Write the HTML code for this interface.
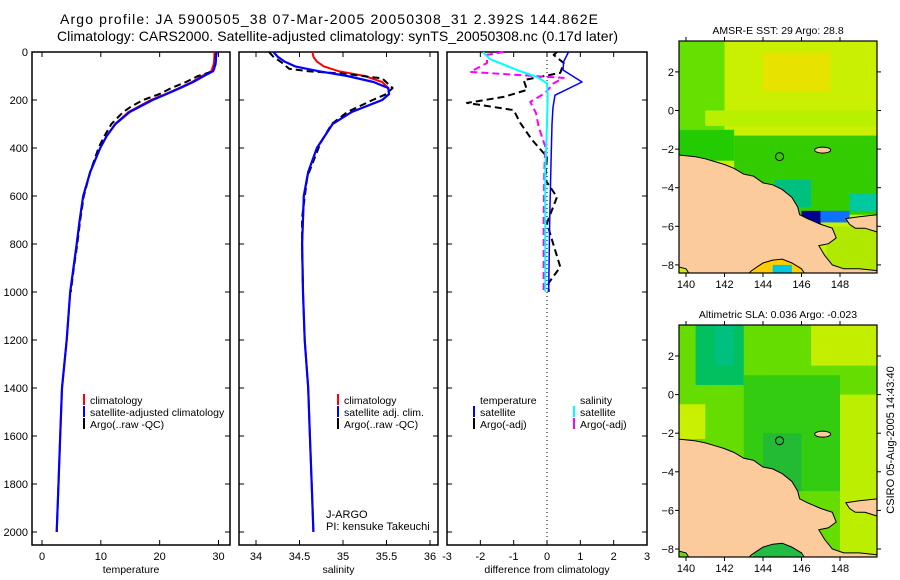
<!DOCTYPE html>
<html><head><meta charset="utf-8">
<style>
html,body{margin:0;padding:0;background:#fff;}
svg{display:block;font-family:"Liberation Sans",sans-serif;}
</style></head>
<body>
<svg id="fig" width="900" height="580" viewBox="0 0 900 580" xmlns="http://www.w3.org/2000/svg">
<text x="60" y="24" font-size="14" textLength="538">Argo profile: JA 5900505_38 07-Mar-2005 20050308_31 2.392S 144.862E</text>
<text x="57" y="41" font-size="14" textLength="561">Climatology: CARS2000. Satellite-adjusted climatology: synTS_20050308.nc (0.17d later)</text>
<g id="plots"></g>
<g id="maps"></g>
<text transform="translate(894,440) rotate(-90)" font-size="11" text-anchor="middle">CSIRO 05-Aug-2005 14:43:40</text>
</svg>
<script>
// ---- data ----
const tClimDepth=[0,20,50,80,100,125,150,175,200,250,300,350,400,500,600,700,800,1000,1200,1400,1600,1800,2000];
const tClim=[29.3,29.3,29.2,28.8,27.2,25.5,23.3,21,18.5,14.7,12.4,11,9.9,8.2,7.0,6.4,5.9,4.8,4.2,3.4,3.1,2.8,2.5];
const tSat=[29.7,29.6,29.5,29.1,27.5,25.7,23.5,21.2,18.8,14.9,12.5,11,9.9,8.2,7.0,6.4,5.9,4.8,4.2,3.4,3.1,2.8,2.5];
const tArgoDepth=[0,20,50,80,100,125,150,175,200,225,250,300,350,400,500,600,700,800,900,1000];
const tArgo=[29.6,29.5,29.4,29.2,26.5,24.5,22,20,17.2,15.3,13.8,11.8,10.6,9.6,8.2,7.1,6.5,6.0,5.4,4.9];
const sClimDepth=[0,20,40,60,80,100,125,150,175,200,250,300,400,500,600,800,1000,1200,1400,1600,1800,2000];
const sClim=[34.65,34.66,34.7,34.78,34.95,35.25,35.45,35.52,35.53,35.45,35.1,34.88,34.7,34.6,34.55,34.53,34.54,34.56,34.6,34.62,34.64,34.66];
const sSat=[34.2,34.25,34.33,34.45,34.72,35.05,35.35,35.52,35.53,35.45,35.1,34.88,34.7,34.6,34.55,34.53,34.54,34.56,34.6,34.62,34.64,34.66];
const sArgoDepth=[0,20,45,70,80,90,110,150,175,200,250,300,380,520,690,800,1000];
const sArgo=[34.15,34.2,34.3,34.38,34.6,35.0,35.45,35.57,35.5,35.34,35.05,34.87,34.74,34.59,34.53,34.53,34.54];
const dTSatDepth=[0,4,40,75,125,180,230,300,463,700,1000];
const dTSat=[0.65,0.63,0.5,0.48,1.05,0.24,0.18,0.15,0.12,0.08,0.05];
const dSSatDepth=[0,4,30,75,104,130,187,300,500,1000];
const dSSat=[-1.9,-1.9,-1.7,-0.9,-0.3,0,0.02,0.0,-0.05,-0.05];
const dSArgoDepth=[0,12,46,83,108,130,171,208,254,312,395,500,700,1000];
const dSArgo=[-1.3,-1.8,-1.8,-2.3,0.5,0.2,-0.05,-0.5,-0.33,-0.25,-0.05,-0.08,-0.1,-0.1];
const dTArgoDepth=[0,12,46,87,117,158,187,212,242,296,366,437,533,604,712,783,896,962,1000];
const dTArgo=[0.3,0.2,0.5,0.4,-0.7,-0.6,-1.3,-2.4,-1.0,-0.8,-0.45,0,-0.05,0.3,0,0.15,0.4,0.05,0.05];
const depthTicks=[0,200,400,600,800,1000,1200,1400,1600,1800,2000];
const tTicks=[0,10,20,30];
const sTicks=[34,34.5,35,35.5,36];
const sTickLabels=["34","34.5","35","35.5","36"];
const dTicks=[-3,-2,-1,0,1,2,3];
const lonTicks=[140,142,144,146,148];
const latTicks=[2,0,-2,-4,-6,-8];

const NS="http://www.w3.org/2000/svg";
function mk(tag,attrs,parent){const e=document.createElementNS(NS,tag);for(const k in attrs)e.setAttribute(k,attrs[k]);(parent||document.getElementById('plots')).appendChild(e);return e;}
const TOP=52,BOT=545;
const yD=d=>TOP+d*0.24;
function scaleX(v0,x0,v1,x1){return v=>x0+(v-v0)*(x1-x0)/(v1-v0);}
const panels=[
 {l:32,r:230,x:scaleX(0,42,30,218.5),ticks:tTicks,labels:tTicks.map(String),title:"temperature",name:"temperature"},
 {l:239,r:438,x:scaleX(34,256,36,430),ticks:sTicks,labels:sTickLabels,title:"salinity",name:"salinity"},
 {l:447,r:647,x:scaleX(-3,447,3,647),ticks:dTicks,labels:dTicks.map(String),title:"difference from climatology",name:"difference"}
];
panels.forEach((p,i)=>{
 const g=mk('g',{});
 
 
 const fr=mk('rect',{x:p.l,y:TOP,width:p.r-p.l,height:BOT-TOP,fill:'none',stroke:'#000','stroke-width':1.5},g);
 
 
 p.ticks.forEach((t,j)=>{
  const x=p.x(t);
  mk('line',{x1:x,x2:x,y1:BOT,y2:BOT-5,stroke:'#000'},g);
  mk('line',{x1:x,x2:x,y1:TOP,y2:TOP+5,stroke:'#000'},g);
  const tx=mk('text',{x:x,y:BOT+15,'font-size':11,'text-anchor':'middle'},g);
  tx.textContent=p.labels[j];
  
  
 });
 depthTicks.forEach(d=>{
  const y=yD(d);
  mk('line',{x1:p.l,x2:p.l+5,y1:y,y2:y,stroke:'#000'},g);
  mk('line',{x1:p.r,x2:p.r-5,y1:y,y2:y,stroke:'#000'},g);
  if(i===0){const tx=mk('text',{x:28,y:y+4,'font-size':11,'text-anchor':'end'},g);tx.textContent=String(d);
   
   }
 });
 const tt=mk('text',{x:(p.l+p.r)/2,y:BOT+28,'font-size':10.5,'text-anchor':'middle'},g);
 tt.textContent=p.title;
 
 
});
function line(p,depths,vals,color,dash,name,w){
 const pts=depths.map((d,k)=>p.x(vals[k]).toFixed(1)+','+yD(d).toFixed(1)).join(' ');
 const e=mk('polyline',{points:pts,fill:'none',stroke:color,'stroke-width':w||2,'stroke-dasharray':dash||'none','stroke-linejoin':'round'});
 
 
}
const zl=mk('line',{x1:panels[2].x(0),x2:panels[2].x(0),y1:TOP,y2:BOT,stroke:'#000','stroke-dasharray':'1,3'});


line(panels[0],tClimDepth,tClim,'#f00',null,'temperature-climatology-line');
line(panels[0],tArgoDepth,tArgo,'#000','7,4','temperature-argo-line');
line(panels[0],tClimDepth,tSat,'#00f',null,'temperature-satellite-line',2.2);
line(panels[1],sClimDepth,sClim,'#f00',null,'salinity-climatology-line');
line(panels[1],sArgoDepth,sArgo,'#000','7,4','salinity-argo-line');
line(panels[1],sClimDepth,sSat,'#00f',null,'salinity-satellite-line',2.2);
line(panels[2],dTArgoDepth,dTArgo,'#000','7,4','diff-temperature-argo-line');
line(panels[2],dSArgoDepth,dSArgo,'#f0f','7,4','diff-salinity-argo-line');
line(panels[2],dTSatDepth,dTSat,'#00f',null,'diff-temperature-satellite-line',1.5);
line(panels[2],dSSatDepth,dSSat,'#0ff',null,'diff-salinity-satellite-line',2);
function leg(x,y,color,label,name){
 if(color){const m=mk('line',{x1:x,x2:x,y1:y-10,y2:y+1,stroke:color,'stroke-width':2});
  
  }
 const t=mk('text',{x:x+6,y:y,'font-size':10.5});t.textContent=label;
 
 
}
leg(84,404,'#f00','climatology','legend-climatology');
leg(84,416,'#00f','satellite-adjusted climatology','legend-satellite');
leg(84,428,'#000','Argo(..raw -QC)','legend-argo');
leg(338,404,'#f00','climatology','legend2-climatology');
leg(338,416,'#00f','satellite adj. clim.','legend2-satellite');
leg(338,428,'#000','Argo(..raw -QC)','legend2-argo');
leg(474,404,null,'temperature','legend3-temperature-header');
leg(474,416,'#00f','satellite','legend3-temp-satellite');
leg(474,428,'#000','Argo(-adj)','legend3-temp-argo');
leg(574,404,null,'salinity','legend3-salinity-header');
leg(574,416,'#0ff','satellite','legend3-sal-satellite');
leg(574,428,'#f0f','Argo(-adj)','legend3-sal-argo');
const j1=mk('text',{x:326,y:518,'font-size':11});j1.textContent='J-ARGO';


const j2=mk('text',{x:326,y:530,'font-size':11});j2.textContent='PI: kensuke Takeuchi';



// ---- maps ----
const coast=[[139.6,-2.3],[140.5,-2.4],[141,-2.5],[141.5,-2.65],[142,-2.8],[142.5,-3.0],[143,-3.3],[143.5,-3.4],[144,-3.75],[144.5,-3.85],[145,-4.1],[145.5,-4.5],[145.8,-5.0],[145.9,-5.4],[146.3,-5.6],[147,-5.9],[147.6,-6.1],[147.8,-6.6],[147.4,-6.9],[146.9,-7.0],[147.2,-7.5],[147.6,-8.0],[148.2,-8.2],[149,-8.2],[149.95,-8.3],[149.95,-8.5],[146.2,-8.5],[146.0,-8.2],[145.5,-7.9],[145,-7.7],[144.5,-7.75],[144,-7.9],[143.7,-8.1],[143.4,-8.3],[143.2,-8.5],[140.2,-8.5],[140,-8.2],[139.6,-8.1]];
const newBritain=[[148.3,-5.6],[149,-5.5],[149.95,-5.4],[149.95,-6.3],[149.3,-6.1],[148.8,-6.1],[148.5,-5.9]];
const mapsDef=[
 {top:41,bot:273,y0:110.5,title:'AMSR-E SST: 29 Argo: 28.8',ty:34,name:'sst-map',base:'#c8f000',patches:[
  [139.6,3.6,142,-1,'#66e000'],[144,3,147.5,1,'#e8e200'],[141,0,150,-0.8,'#b8f000'],[139.6,-1,142.5,-2.6,'#22cc00'],[142.5,-1.3,150,-5.4,'#33cc00'],[144.6,-3.6,146.5,-5,'#00c080'],[148.5,-4.3,149.9,-5.2,'#00c8a0'],[146,-5.2,147,-5.9,'#000090'],[147,-5.2,148.5,-5.8,'#1070ff'],[147.3,-6,150,-8.5,'#b0e800'],[143.5,-7.5,146,-8.5,'#ffcc00'],[144.5,-8,145.5,-8.5,'#00c8e0']]},
 {top:325,bot:557,y0:394.6,title:'Altimetric SLA: 0.036 Argo: -0.023',ty:318,name:'sla-map',base:'#66dd00',patches:[
  [140.5,3.6,143,0.5,'#00c060'],[141.5,3.6,142.5,1.5,'#00c080'],[143,1,148,-5,'#33cc11'],[146.5,3.6,150,1.5,'#c4ee00'],[148,0,150,-8.5,'#bbee00'],[139.6,-0.5,141,-2.3,'#c8f000'],[144,-2,146,-5,'#22bb33'],[143.5,-7.5,146,-8.5,'#22bb44']]}
];
const mg=document.getElementById('maps');
const lonX=lon=>686+(lon-140)*19.25;
mapsDef.forEach(m=>{
 const g=mk('g',{},mg);
 
 
 const latY=lat=>m.y0-lat*19.3;
 const cid='clip-'+m.name;
 const cp=mk('clipPath',{id:cid},g);mk('rect',{x:679,y:m.top,width:198,height:m.bot-m.top},cp);
 const inner=mk('g',{'clip-path':'url(#'+cid+')'},g);
 mk('rect',{x:679,y:m.top,width:198,height:m.bot-m.top,fill:m.base},inner);
 m.patches.forEach(p=>{
  mk('rect',{x:lonX(p[0]),y:latY(p[1]),width:lonX(p[2])-lonX(p[0]),height:latY(p[3])-latY(p[1]),fill:p[4]},inner);
 });
 const poly=a=>a.map(q=>lonX(q[0]).toFixed(1)+','+latY(q[1]).toFixed(1)).join(' ');
 const land=mk('polygon',{points:poly(coast),fill:'#fccb9b',stroke:'#000','stroke-width':1},inner);
 
 
 mk('polygon',{points:poly(newBritain),fill:'#fccb9b',stroke:'#000','stroke-width':1},inner);
 mk('ellipse',{cx:lonX(147.1),cy:latY(-2.05),rx:8,ry:3,fill:'#fccb9b',stroke:'#000'},inner);
 const c=mk('circle',{cx:lonX(144.86),cy:latY(-2.39),r:4,fill:'none',stroke:'#000'},inner);
 
 
 mk('rect',{x:679,y:m.top,width:198,height:m.bot-m.top,fill:'none',stroke:'#000','stroke-width':1.2},g);
 lonTicks.forEach(l=>{
  const x=lonX(l);
  mk('line',{x1:x,x2:x,y1:m.bot,y2:m.bot+4,stroke:'#000'},g);
  mk('line',{x1:x,x2:x,y1:m.top,y2:m.top-4,stroke:'#000'},g);
  const t=mk('text',{x:x,y:m.bot+15,'font-size':11,'text-anchor':'middle'},g);t.textContent=String(l);
  
  
 });
 latTicks.forEach(l=>{
  const y=latY(l);
  mk('line',{x1:679,x2:675,y1:y,y2:y,stroke:'#000'},g);
  mk('line',{x1:877,x2:881,y1:y,y2:y,stroke:'#000'},g);
  const t=mk('text',{x:674,y:y+4,'font-size':11,'text-anchor':'end'},g);t.textContent=String(l).replace('-','\u2212');
  
  
 });
 const tt=mk('text',{x:778,y:m.ty,'font-size':10.5,'text-anchor':'middle'},g);tt.textContent=m.title;
 
 
});
</script>
</body></html>
